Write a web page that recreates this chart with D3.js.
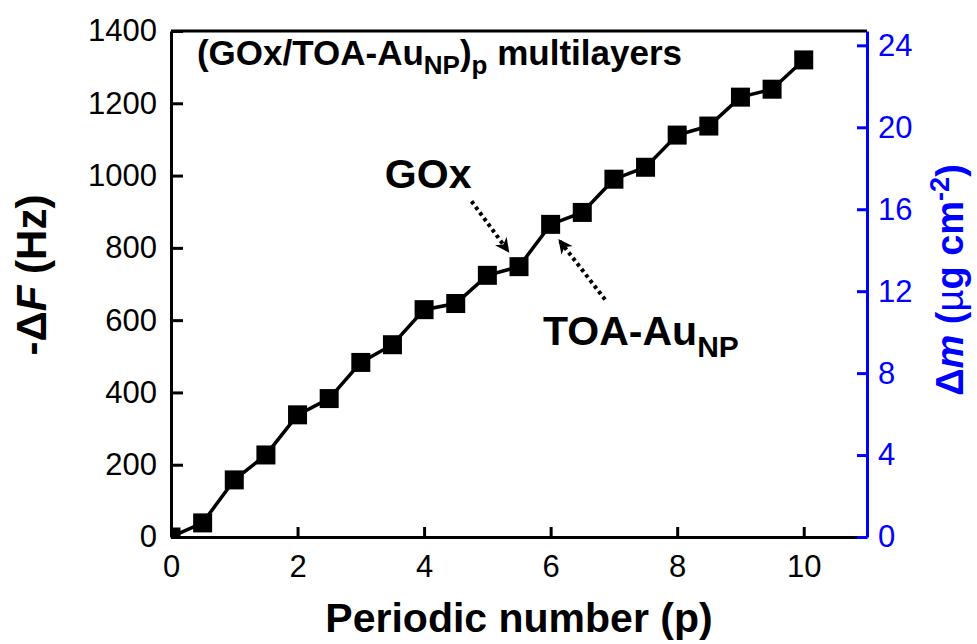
<!DOCTYPE html>
<html>
<head>
<meta charset="utf-8">
<script src="https://cdn.jsdelivr.net/npm/d3@7"></script>
<style>
  body { margin: 0; background: #fff; }
  text { font-family: "Liberation Sans", Arial, sans-serif; }
</style>
</head>
<body>
<div id="chart"></div>
<script>
// periodic number (half steps = GOx layer, full steps = TOA-AuNP layer)
const periodic = [0, 0.5, 1, 1.5, 2, 2.5, 3, 3.5, 4, 4.5, 5, 5.5, 6, 6.5, 7, 7.5, 8, 8.5, 9, 9.5, 10];
// frequency decrease -dF (Hz)
const deltaF = [0, 39, 158, 227, 338, 383, 483, 532, 629, 646, 724, 748, 865, 898, 990, 1023, 1112, 1137, 1217, 1239, 1320];
const xTicks = [0, 2, 4, 6, 8, 10];
const yTicks = [0, 200, 400, 600, 800, 1000, 1200, 1400];
const massTicks = [0, 4, 8, 12, 16, 20, 24];

const width = 977, height = 644;
const margin = {top: 31, right: 110, bottom: 107, left: 171};
const innerW = width - margin.left - margin.right;
const innerH = height - margin.top - margin.bottom;
const blue = "#0000ff";

const svg = d3.select("#chart").append("svg")
  .attr("width", width)
  .attr("height", height);

const x = d3.scaleLinear().domain([0, 11]).range([0, innerW]);
const y = d3.scaleLinear().domain([0, 1400]).range([innerH, 0]);
const yMass = d3.scaleLinear().domain([0, 24.7]).range([innerH, 0]);

const g = svg.append("g").attr("transform", `translate(${margin.left},${margin.top})`);

svg.append("defs").append("clipPath").attr("id", "plotClip")
  .append("rect").attr("width", innerW).attr("height", innerH);

svg.select("defs").append("marker")
  .attr("id", "arrowHead")
  .attr("viewBox", "0 0 10 10")
  .attr("refX", 8).attr("refY", 5)
  .attr("markerWidth", 3.6).attr("markerHeight", 3.6)
  .attr("orient", "auto")
  .append("path")
  .attr("d", "M0,0 L10,5 L0,10 L3,5 Z")
  .attr("fill", "#000");

// top frame line
g.append("line")
  .attr("x1", 0).attr("x2", innerW).attr("y1", 0).attr("y2", 0)
  .attr("stroke", "#000").attr("stroke-width", 3);

// axes
const fmt = d3.format("d");
const xAxis = g.append("g").attr("transform", `translate(0,${innerH})`)
  .call(d3.axisBottom(x).tickValues(xTicks).tickFormat(fmt).tickSizeInner(-10).tickSizeOuter(0).tickPadding(18));
const yAxis = g.append("g")
  .call(d3.axisLeft(y).tickValues(yTicks).tickFormat(fmt).tickSizeInner(-12).tickSizeOuter(0).tickPadding(14));
const rAxis = g.append("g").attr("transform", `translate(${innerW},0)`)
  .call(d3.axisRight(yMass).tickValues(massTicks).tickFormat(fmt).tickSizeInner(-10).tickSizeOuter(0).tickPadding(11));

[xAxis, yAxis].forEach(a => {
  a.select(".domain").attr("stroke", "#000").attr("stroke-width", 3);
  a.selectAll(".tick line").attr("stroke", "#000").attr("stroke-width", 3);
  a.selectAll(".tick text").attr("font-size", 31).attr("fill", "#000")
    .attr("font-family", "Liberation Sans, Arial, sans-serif");
});
rAxis.select(".domain").attr("stroke", blue).attr("stroke-width", 3);
rAxis.selectAll(".tick line").attr("stroke", blue).attr("stroke-width", 3);
rAxis.selectAll(".tick text").attr("font-size", 31).attr("fill", blue)
  .attr("font-family", "Liberation Sans, Arial, sans-serif");

// data line + markers
const line = d3.line().x((d, i) => x(periodic[i])).y(d => y(d));
const plot = g.append("g").attr("clip-path", "url(#plotClip)");
plot.append("path")
  .datum(deltaF)
  .attr("d", line)
  .attr("fill", "none")
  .attr("stroke", "#000")
  .attr("stroke-width", 3.5);
const sq = 19;
plot.selectAll("rect.pt")
  .data(deltaF)
  .join("rect")
  .attr("class", "pt")
  .attr("x", (d, i) => x(periodic[i]) - sq / 2)
  .attr("y", d => y(d) - sq / 2)
  .attr("width", sq).attr("height", sq)
  .attr("fill", "#000");

// annotations (data coordinates)
const title = g.append("text")
  .attr("x", x(0.41)).attr("y", y(1306))
  .attr("font-size", 35).attr("font-weight", "bold");
title.append("tspan").text("(GOx/TOA-Au");
title.append("tspan").text("NP").attr("font-size", 26).attr("dy", 9);
title.append("tspan").text(")").attr("dy", -9);
title.append("tspan").text("p").attr("font-size", 26).attr("dy", 9);
title.append("tspan").text(" multilayers").attr("dy", -9);

g.append("text")
  .attr("x", x(3.38)).attr("y", y(966))
  .attr("font-size", 41).attr("font-weight", "bold")
  .text("GOx");

const toa = g.append("text")
  .attr("x", x(5.88)).attr("y", y(531))
  .attr("font-size", 41).attr("font-weight", "bold");
toa.append("tspan").text("TOA-Au");
toa.append("tspan").text("NP").attr("font-size", 30).attr("dy", 12);

const arrows = [
  {from: [4.75, 929], to: [5.32, 793]},
  {from: [6.86, 657], to: [6.15, 818]}
];
g.selectAll("line.arrow")
  .data(arrows)
  .join("line")
  .attr("class", "arrow")
  .attr("x1", d => x(d.from[0])).attr("y1", d => y(d.from[1]))
  .attr("x2", d => x(d.to[0])).attr("y2", d => y(d.to[1]))
  .attr("stroke", "#000")
  .attr("stroke-width", 4)
  .attr("stroke-dasharray", "3.5,3.5")
  .attr("marker-end", "url(#arrowHead)");

// axis titles
svg.append("text")
  .attr("x", margin.left + innerW / 2).attr("y", 632)
  .attr("text-anchor", "middle")
  .attr("font-size", 41).attr("font-weight", "bold")
  .text("Periodic number (p)");

const yl = svg.append("text")
  .attr("transform", "translate(46,275) rotate(-90)")
  .attr("text-anchor", "middle")
  .attr("font-size", 42).attr("font-weight", "bold");
yl.append("tspan").text("-\u0394");
yl.append("tspan").text("F").attr("font-style", "italic");
yl.append("tspan").text(" (Hz)");

const rl = svg.append("text")
  .attr("transform", "translate(963,280) rotate(-90)")
  .attr("text-anchor", "middle")
  .attr("font-size", 38).attr("font-weight", "bold")
  .attr("fill", blue);
rl.append("tspan").text("\u0394");
rl.append("tspan").text("m").attr("font-style", "italic");
rl.append("tspan").text(" (");
rl.append("tspan").text("\u00b5").attr("font-weight", "normal");
rl.append("tspan").text("g cm");
rl.append("tspan").text("-2").attr("font-size", 27).attr("dy", -14);
rl.append("tspan").text(")").attr("dy", 14);
</script>
</body>
</html>
